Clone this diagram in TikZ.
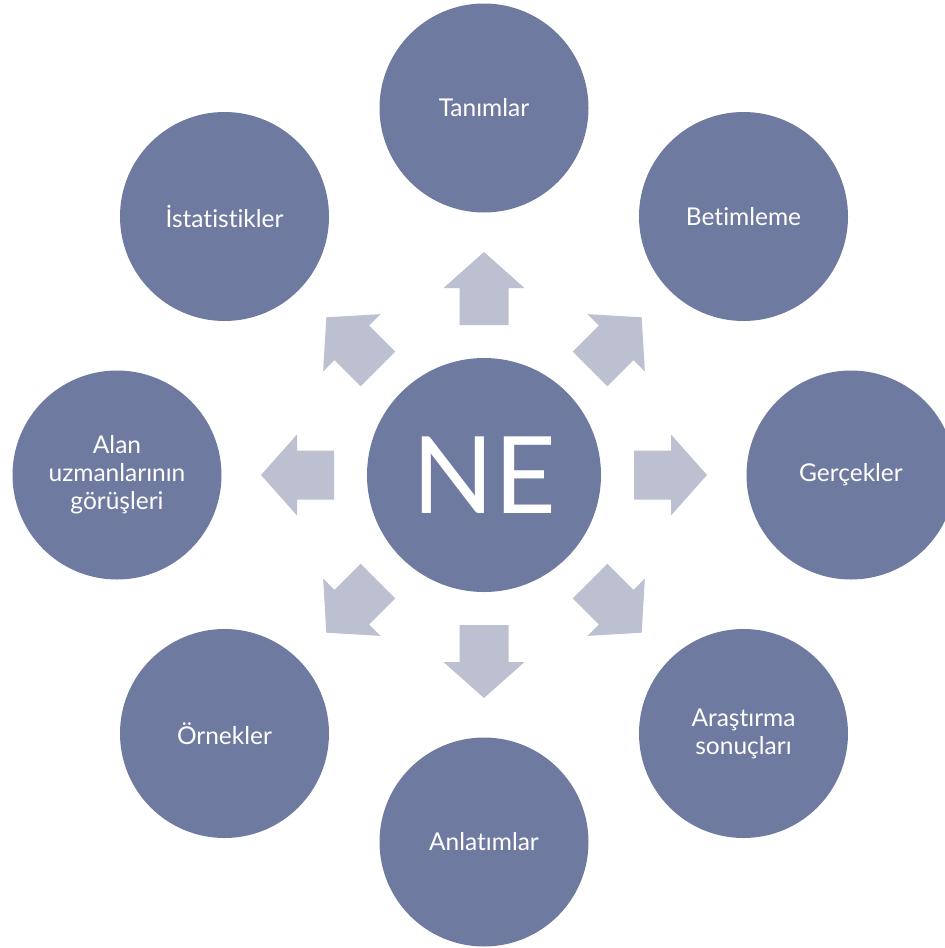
\documentclass[tikz,border=0pt]{standalone}
\usepackage{fontspec}
\setmainfont[Ligatures=NoCommon]{Lato}
\definecolor{circ}{HTML}{6F7AA0}
\definecolor{arr}{HTML}{BCC0D0}
\begin{document}
\begin{tikzpicture}[x=1pt,y=-1pt,
  outer/.style={circle,fill=circ,minimum size=209pt,inner sep=0pt,text=white,align=center,font=\fontsize{24.5}{28}\selectfont},
  blockarrow/.style={fill=arr}]
\useasboundingbox (0,0) rectangle (945,948);
\node[circle,fill=circ,minimum size=234pt,inner sep=0pt,text=white,font=\fontsize{107}{110}\selectfont] (c) at (484,475) {NE};
\node[outer] (n1) at (484,108) {Tanımlar};
\node[outer] (n2) at (743.5,216.5) {Betimleme};
\node[outer] (n3) at (851,475) {Gerçekler};
\node[outer] (n4) at (743.5,733.5) {Araştırma\\sonuçları};
\node[outer] (n5) at (484,842) {Anlatımlar};
\node[outer] (n6) at (224.5,733.5) {Örnekler};
\node[outer] (n7) at (117,475) {Alan\\uzmanlarının\\görüşleri};
\node[outer] (n8) at (224.5,216.5) {İstatistikler};
\foreach \a in {0,45,...,315}{
  \fill[blockarrow,shift={(c.center)},rotate=\a]
    (150,-24.5) -- (187,-24.5) -- (187,-40.5) -- (223,0) -- (187,40.5) -- (187,24.5) -- (150,24.5) -- cycle;
}
\end{tikzpicture}
\end{document}
